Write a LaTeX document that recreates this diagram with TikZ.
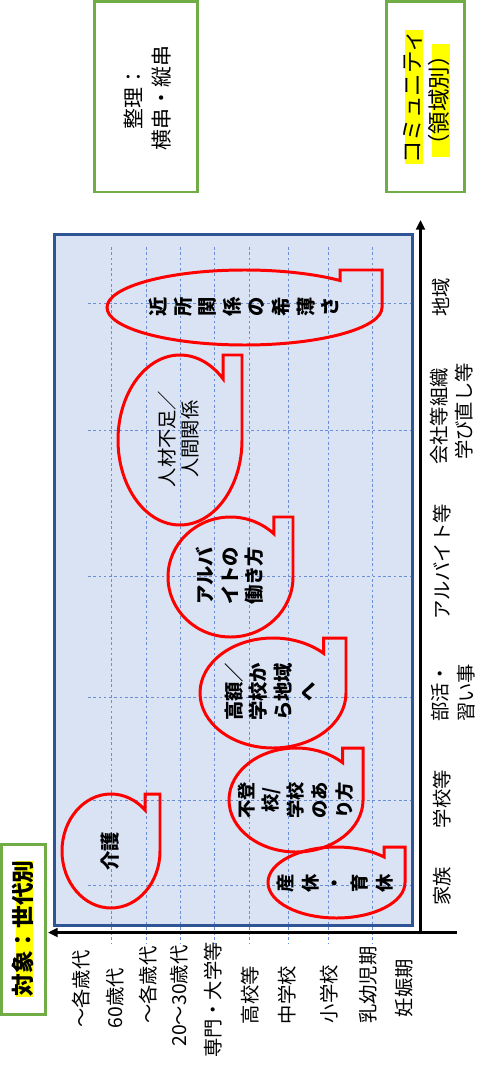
\documentclass[tikz,border=0pt]{standalone}
\usepackage{fontspec}
\setmainfont{Noto Sans CJK JP}
\usetikzlibrary{arrows.meta}
\definecolor{boxgreen}{HTML}{70AD47}
\definecolor{frameblue}{HTML}{2F5597}
\definecolor{fillblue}{HTML}{DAE3F3}
\definecolor{gridblue}{HTML}{6A8FD6}
\definecolor{hiyellow}{HTML}{FFFF00}
\definecolor{callred}{HTML}{FF0000}
\tikzset{
  greenbox/.style={draw=boxgreen, line width=1.7pt},
  mainbox/.style={draw=frameblue, fill=fillblue, line width=1.7pt},
  gridline/.style={draw=gridblue, line width=0.5pt, dash pattern=on 1.5pt off 1.5pt},
  axisline/.style={draw=black, line width=1.7pt, -{Triangle[length=5.5pt,width=5pt]}},
  calloutline/.style={draw=callred, line width=1.7pt, line join=miter},
  lbl/.style={rotate=90, inner sep=0pt, font=\fontsize{11}{13}\selectfont},
  toptext/.style={rotate=90, inner sep=0pt, align=center, font=\fontsize{11.9}{16.4}\selectfont},
  hl/.style={rotate=90, inner sep=0pt, fill=hiyellow, text height=0.88em, text depth=0.12em, font=\fontsize{12.8}{15}\selectfont},
  ctext/.style={rotate=90, inner sep=0pt, align=center, font=\fontsize{11}{14}\selectfont\bfseries},
  csmall/.style={rotate=90, inner sep=0pt, align=center, font=\fontsize{10.4}{14}\selectfont\bfseries},
  cthin/.style={rotate=90, inner sep=0pt, align=center, font=\fontsize{11}{13}\selectfont},
}
% cx cy rx ry
\newcommand\mycallout[4]{%
  \draw[calloutline] ({#1+#3},#2) arc[start angle=0,end angle=314,x radius=#3,y radius=#4]
    -- ({#1+0.6947*#3},{#2-#4}) -- ({#1+#3},{#2-#4}) -- cycle;}
\begin{document}
\begin{tikzpicture}[x=0.02cm,y=-0.02cm]
\useasboundingbox (0,0) rectangle (480,1067);

% top boxes
\draw[greenbox] (94.5,1.5) rectangle (197.5,192);
\node[toptext] (t-seiri) at (147.5,98) {整理：\\横串・縦串};
\draw[greenbox] (386.5,1.5) rectangle (464.5,192);
\node[hl] (t-comm1) at (414,97) {コミュニティ};
\node[hl] (t-comm2) at (441,100.5) {（領域別）};

% left bottom box
\draw[greenbox] (1.5,844.5) rectangle (45.5,1014.5);
\node[hl, font=\fontsize{12.9}{15}\selectfont\bfseries] (t-taisho) at (24.5,928.5) {対象：世代別};

% main box
\draw[mainbox] (54.5,234.5) rectangle (412.5,925);

% grid
\foreach \gx in {111,146,180,214,249,288,328,372}
  \draw[gridline] (\gx,247) -- (\gx,943);
\foreach \gy in {303,430,576,697,800,885}
  \draw[gridline] (88,\gy) -- (410,\gy);

% callouts
\mycallout{244.5}{307.5}{137.5}{37.5}
\mycallout{180}{440}{62}{85}
\mycallout{230.5}{577}{62.5}{60}
\mycallout{273}{693}{73}{55}
\mycallout{296}{800}{67}{52}
\mycallout{336.5}{882.5}{68.5}{35.5}
\mycallout{111}{851}{49}{57}

\node[ctext] (c-kinjo) at (244,307) {近\\所\\関\\係\\の\\希\\薄\\さ};
\node[cthin] (c-jinzai) at (179,439) {人材不足／\\人間関係};
\node[ctext] (c-arubaito) at (230,576) {アルバ\\イトの\\働き方};
\node[ctext] (c-kougaku) at (270,692) {高額／\\学校か\\ら地域\\へ};
\node[csmall] (c-futoukou) at (295.5,800) {不登\\校/\\学校\\のあ\\り方};
\node[csmall] (c-sankyu) at (335,883) {産\\休\\・\\育\\休};
\node[ctext] (c-kaigo) at (110,851) {介護};

% axes
\coordinate (org) at (420.5,932.5);
\coordinate (ytip) at (420.5,220);
\coordinate (xtip) at (48,932.5);
\coordinate (xend) at (457,932.5);
\draw[axisline] (org) -- (ytip);
\draw[axisline] (xend) -- (xtip);

% right labels (domains)
\node[lbl] (d-chiiki) at (441,297) {地域};
\node[lbl] (d-kaisha) at (439,416.5) {会社等組織};
\node[lbl] (d-manabi) at (464,411.5) {学び直し等};
\node[lbl] (d-arubaito) at (442,562) {アルバイト等};
\node[lbl] (d-bukatsu) at (440,693) {部活・};
\node[lbl] (d-naraigoto) at (466,693) {習い事};
\node[lbl] (d-gakkou) at (442,799) {学校等};
\node[lbl] (d-kazoku) at (442,886) {家族};

% bottom labels (generations)
\node[lbl] (g-1) at (81,989) {～各歳代};
\node[lbl] (g-2) at (115,998) {60歳代};
\node[lbl] (g-3) at (148,985) {～各歳代};
\node[lbl] (g-4) at (179,996) {20～30歳代};
\node[lbl] (g-5) at (213,1000) {専門・大学等};
\node[lbl] (g-6) at (250,995) {高校等};
\node[lbl] (g-7) at (287,995) {中学校};
\node[lbl] (g-8) at (329,994) {小学校};
\node[lbl] (g-9) at (368,985) {乳幼児期};
\node[lbl] (g-10) at (404,988) {妊娠期};
\end{tikzpicture}
\end{document}
